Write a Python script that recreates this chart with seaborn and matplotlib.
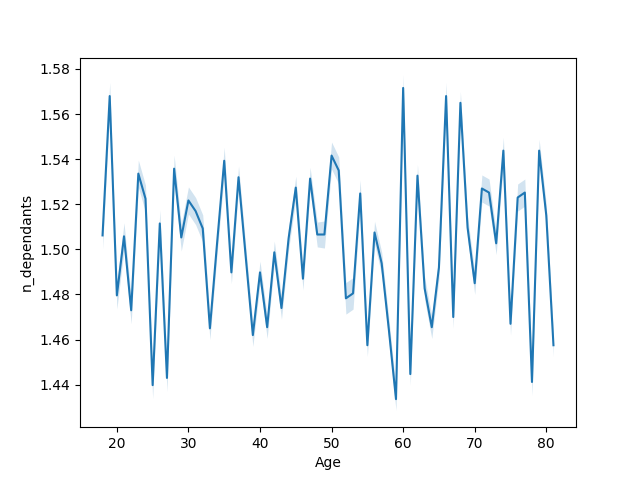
import numpy as np
import pandas as pd
import seaborn as sns
import matplotlib
matplotlib.use("Agg")
import matplotlib.pyplot as plt

# mean number of dependants per age
ages = list(range(18, 82))
mean_dependants = [
    1.5062, 1.5680, 1.4796, 1.5058, 1.4730, 1.5336, 1.5225, 1.4398,  # 18-25
    1.5115, 1.4430, 1.5358, 1.5053, 1.5217, 1.5170, 1.5093, 1.4650,  # 26-33
    1.5027, 1.5393, 1.4898, 1.5320, 1.4969, 1.4620, 1.4898, 1.4655,  # 34-41
    1.4987, 1.4740, 1.5050, 1.5274, 1.4870, 1.5314, 1.5066, 1.5066,  # 42-49
    1.5416, 1.5350, 1.4783, 1.4805, 1.5248, 1.4575, 1.5075, 1.4938,  # 50-57
    1.4645, 1.4336, 1.5716, 1.4447, 1.5327, 1.4827, 1.4655, 1.4920,  # 58-65
    1.5680, 1.4700, 1.5650, 1.5097, 1.4850, 1.5270, 1.5252, 1.5027,  # 66-73
    1.5438, 1.4670, 1.5230, 1.5252, 1.4412, 1.5438, 1.5150, 1.4575,  # 74-81
]
# half width of the 95% confidence band
ci_half = [
    0.006, 0.006, 0.006, 0.006, 0.006, 0.006, 0.006, 0.006,
    0.006, 0.006, 0.006, 0.006, 0.006, 0.006, 0.006, 0.005,
    0.005, 0.006, 0.005, 0.005, 0.005, 0.005, 0.005, 0.005,
    0.005, 0.005, 0.005, 0.005, 0.005, 0.005, 0.0055, 0.006,
    0.006, 0.006, 0.007, 0.007, 0.006, 0.005, 0.005, 0.005,
    0.005, 0.005, 0.006, 0.005, 0.005, 0.005, 0.005, 0.005,
    0.006, 0.005, 0.005, 0.005, 0.005, 0.006, 0.006, 0.005,
    0.006, 0.005, 0.006, 0.006, 0.006, 0.005, 0.005, 0.005,
]

df = pd.DataFrame({"Age": ages, "n_dependants": mean_dependants, "ci": ci_half})
df["lo"] = df["n_dependants"] - df["ci"]
df["hi"] = df["n_dependants"] + df["ci"]

fig, ax = plt.subplots(figsize=(6.4, 4.8), dpi=100)
sns.lineplot(x="Age", y="n_dependants", data=df, ax=ax, errorbar=None)
ax.fill_between(df["Age"], df["lo"], df["hi"], color=ax.lines[0].get_color(),
                alpha=0.2, linewidth=0)
ax.margins(x=0.05, y=0.05)

plt.savefig("out.png")
